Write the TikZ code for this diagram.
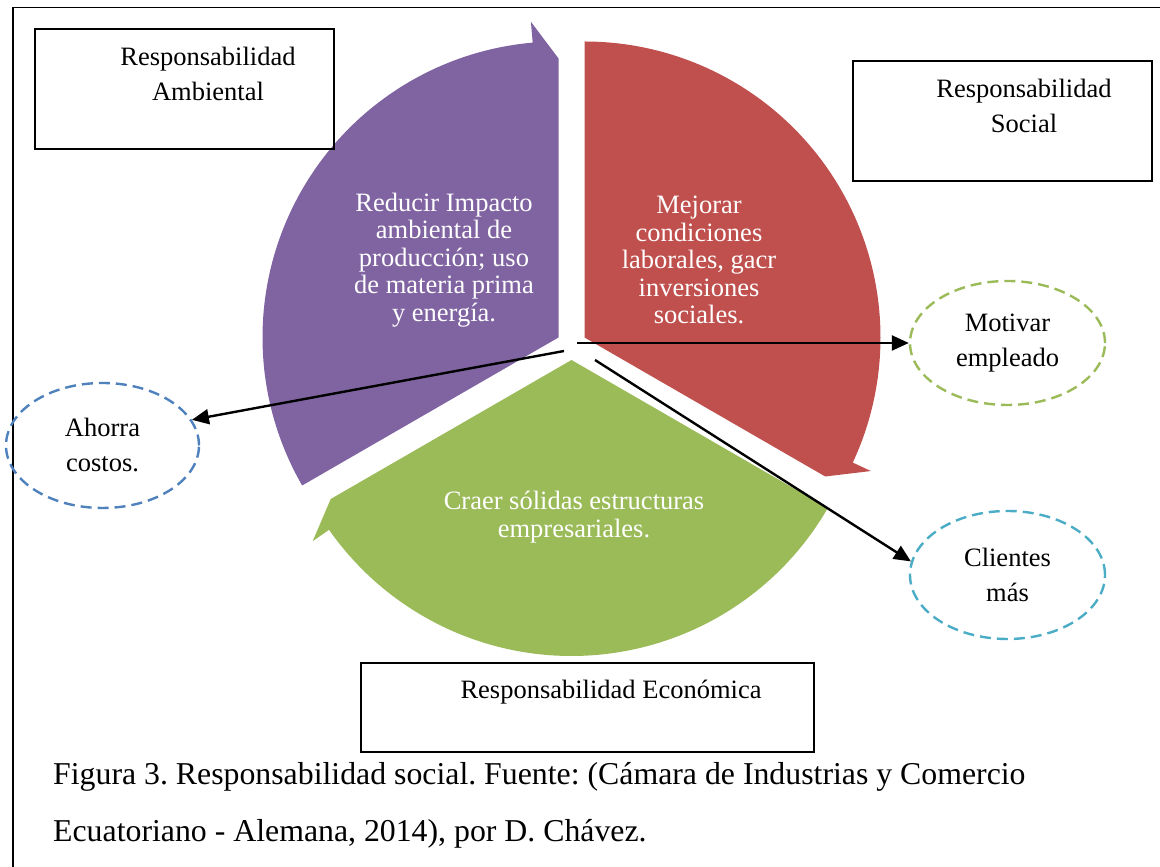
\documentclass[tikz,border=0pt]{standalone}
\usepackage{fontspec}
\setmainfont{Liberation Serif}
\usetikzlibrary{shapes.geometric,arrows.meta}
\definecolor{wpurple}{HTML}{8064A2}
\definecolor{wred}{HTML}{C0504D}
\definecolor{wgreen}{HTML}{9BBB59}
\definecolor{eblue}{HTML}{4F81BD}
\definecolor{ecyan}{HTML}{4BACC6}
\frenchspacing
\begin{document}
\begin{tikzpicture}[x=1pt,y=1pt,
  box/.style={draw=black, line width=1.8pt, inner sep=0pt},
  lbl/.style={font=\fontsize{26.5}{35}\selectfont, align=center, inner sep=0pt},
  wtext/.style={font=\fontsize{26.5}{27.5}\selectfont, align=center, text=white, inner sep=0pt},
  oval/.style={ellipse, line width=2.4pt, dash pattern=on 11pt off 6pt, inner sep=0pt,
               font=\fontsize{26.5}{35}\selectfont, align=center},
  arr/.style={line width=2.4pt, -{Triangle[length=17pt,width=15pt]}},
  captext/.style={font=\fontsize{31.8}{40}\selectfont, anchor=base west, inner sep=0pt}]
\useasboundingbox (0,0) rectangle (1160,867);
% outer frame
\draw[line width=1.8pt] (13.3,0) |- (1160,859.5);

% wedges
\begin{scope}[shift={(558.5,529.5)}]
  \fill[wpurple] (0,0) -- (210:296) arc[start angle=210, end angle=95, radius=296]
     -- (95:317) -- (90:279) -- cycle;
\end{scope}
\begin{scope}[shift={(584.5,529.5)}]
  \fill[wred] (0,0) -- (90:296) arc[start angle=90, end angle=-25, radius=296]
     -- (-25:316) -- (-30:278) -- cycle;
\end{scope}
\begin{scope}[shift={(571.5,507)}]
  \fill[wgreen] (0,0) -- (-30:296) arc[start angle=-30, end angle=-145, radius=296]
     -- (-145:316) -- (-150:278) -- cycle;
\end{scope}

% wedge texts
\node[wtext] (tpurple) at (444,607) {Reducir Impacto\\ambiental de\\producción; uso\\de materia prima\\y energía.};
\node[wtext] (tred) at (699,607) {Mejorar\\condiciones\\laborales, gacr\\inversiones\\sociales.};
\node[wtext] (tgreen) at (574,350) {Craer sólidas estructuras\\empresariales.};

% boxes
\node[box, minimum width=299.3, minimum height=119.4] (ambBox) at (184.4,778) {};
\node[lbl] (ambText) at (208,793.5) {Responsabilidad\\Ambiental};
\node[box, minimum width=299, minimum height=120] (socBox) at (1002.5,746) {};
\node[lbl] (socText) at (1024,761.5) {Responsabilidad\\Social};
\node[box, minimum width=453, minimum height=89] (ecoBox) at (587.5,159.5) {};
\node[lbl, anchor=base] (ecoText) at (611,168) {Responsabilidad Económica};

% ellipses
\node[oval, draw=eblue, minimum width=193, minimum height=125] (ahorra) at (102.5,421.5) {Ahorra\\costos.};
\node[oval, draw=wgreen, minimum width=195, minimum height=124] (motivar) at (1007.5,524) {Motivar\\empleado};
\node[oval, draw=ecyan, minimum width=195, minimum height=128] (clientes) at (1007.5,292) {Clientes\\más};

% connectors
\coordinate (s1) at (577,524);
\coordinate (s2) at (564,516);
\coordinate (s3) at (595,507);
\draw[arr] (s1) -- (motivar.180);
\draw[arr] (s2) -- (ahorra.16);
\draw[arr] (s3) -- (clientes.172);

% caption
\node[captext] (cap1) at (53,82) {Figura 3. Responsabilidad social. Fuente: (Cámara de Industrias y Comercio};
\node[captext] (cap2) at (53,25) {Ecuatoriano - Alemana, 2014), por D. Chávez.};
\end{tikzpicture}
\end{document}
